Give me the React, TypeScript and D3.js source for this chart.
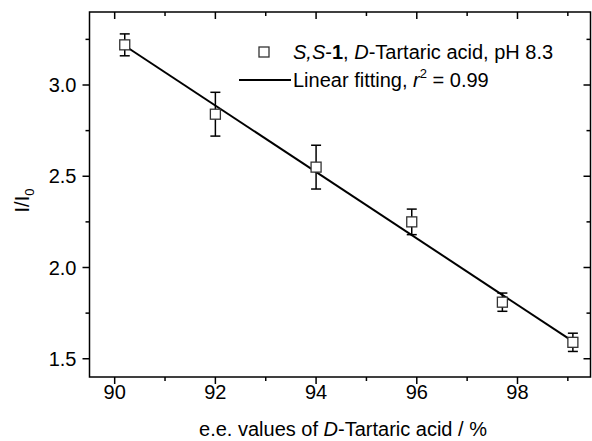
import React, { useRef, useEffect } from "react";
import * as d3 from "d3";

// measured points: e.e. (%), I/I0, error bar half-height
const eeValues = [90.2, 92.0, 94.0, 95.9, 97.7, 99.1];
const ratioValues = [3.22, 2.84, 2.55, 2.25, 1.81, 1.59];
const errValues = [0.06, 0.12, 0.12, 0.07, 0.05, 0.05];

// linear fit end points
const fitX = [90.2, 99.1];
const fitY = [3.215, 1.595];

const xTicks = [90, 92, 94, 96, 98];
const xMinor = [91, 93, 95, 97, 99];
const yTicks = [1.5, 2.0, 2.5, 3.0];
const yMinor = [1.75, 2.25, 2.75, 3.25];

const FONT = "'Liberation Sans', Arial, sans-serif";

export default function App() {
  const svgRef = useRef<SVGSVGElement | null>(null);

  useEffect(() => {
    const svg = d3.select(svgRef.current);
    svg.selectAll("*").remove();

    const left = 89.5;
    const right = 590.5;
    const top = 12;
    const bottom = 377;

    const x = d3.scaleLinear().domain([89.5, 99.45]).range([left, right]);
    const y = d3.scaleLinear().domain([1.4, 3.4]).range([bottom, top]);

    const g = svg.append("g");

    // ticks: outward on left/bottom, inward on top/right
    const tick = (x1: number, y1: number, x2: number, y2: number) =>
      g.append("line")
        .attr("x1", x1).attr("y1", y1).attr("x2", x2).attr("y2", y2)
        .attr("stroke", "#000").attr("stroke-width", 1.5);

    xTicks.forEach((v) => {
      tick(x(v), bottom, x(v), bottom + 7);
      tick(x(v), top, x(v), top + 7);
    });
    xMinor.forEach((v) => {
      tick(x(v), bottom, x(v), bottom + 4);
      tick(x(v), top, x(v), top + 4);
    });
    yTicks.forEach((v) => {
      tick(left, y(v), left - 7, y(v));
      tick(right, y(v), right - 7, y(v));
    });
    yMinor.forEach((v) => {
      tick(left, y(v), left - 4, y(v));
      tick(right, y(v), right - 4, y(v));
    });

    // frame
    g.append("rect")
      .attr("x", left).attr("y", top)
      .attr("width", right - left).attr("height", bottom - top)
      .attr("fill", "none").attr("stroke", "#000").attr("stroke-width", 1.5);

    // tick labels
    g.selectAll(".xl").data(xTicks).enter().append("text")
      .attr("x", (d) => x(d)).attr("y", bottom + 22)
      .attr("text-anchor", "middle")
      .attr("font-family", FONT).attr("font-size", 20)
      .text((d) => d);

    g.selectAll(".yl").data(yTicks).enter().append("text")
      .attr("x", left - 13).attr("y", (d) => y(d) + 7)
      .attr("text-anchor", "end")
      .attr("font-family", FONT).attr("font-size", 20)
      .text((d) => d.toFixed(1));

    // axis titles
    const xt = g.append("text")
      .attr("x", 343).attr("y", bottom + 59)
      .attr("text-anchor", "middle")
      .attr("font-family", FONT).attr("font-size", 20);
    xt.append("tspan").text("e.e. values of ");
    xt.append("tspan").attr("font-style", "italic").text("D");
    xt.append("tspan").text("-Tartaric acid / %");

    const yt = g.append("text")
      .attr("transform", `translate(29, ${(top + bottom) / 2 + 6}) rotate(-90)`)
      .attr("text-anchor", "middle")
      .attr("font-family", FONT).attr("font-size", 20);
    yt.append("tspan").text("I/I");
    yt.append("tspan").attr("font-size", 13).attr("dy", 5).text("0");

    // fit line
    const line = d3.line<number>()
      .x((d) => x(d))
      .y((_, i) => y(fitY[i]));
    g.append("path")
      .datum(fitX)
      .attr("d", line)
      .attr("fill", "none").attr("stroke", "#000").attr("stroke-width", 2);

    // error bars
    const cap = 5;
    eeValues.forEach((v, i) => {
      const cx = x(v);
      const y1 = y(ratioValues[i] + errValues[i]);
      const y2 = y(ratioValues[i] - errValues[i]);
      tick(cx, y1, cx, y2);
      tick(cx - cap, y1, cx + cap, y1);
      tick(cx - cap, y2, cx + cap, y2);
    });

    // markers
    const s = 10;
    g.selectAll(".pt").data(eeValues).enter().append("rect")
      .attr("x", (d) => x(d) - s / 2)
      .attr("y", (_, i) => y(ratioValues[i]) - s / 2)
      .attr("width", s).attr("height", s)
      .attr("fill", "#fff").attr("stroke", "#333").attr("stroke-width", 1.3);

    // legend
    g.append("rect")
      .attr("x", 259).attr("y", 47).attr("width", 10).attr("height", 10)
      .attr("fill", "#fff").attr("stroke", "#333").attr("stroke-width", 1.3);
    const l1 = g.append("text")
      .attr("x", 293).attr("y", 59)
      .attr("font-family", FONT).attr("font-size", 20);
    l1.append("tspan").attr("font-style", "italic").text("S,S");
    l1.append("tspan").text("-");
    l1.append("tspan").attr("font-weight", "bold").text("1");
    l1.append("tspan").text(", ");
    l1.append("tspan").attr("font-style", "italic").text("D");
    l1.append("tspan").text("-Tartaric acid, pH 8.3");

    g.append("line")
      .attr("x1", 239).attr("x2", 291).attr("y1", 80).attr("y2", 80)
      .attr("stroke", "#000").attr("stroke-width", 2);
    const l2 = g.append("text")
      .attr("x", 293).attr("y", 87)
      .attr("font-family", FONT).attr("font-size", 20);
    l2.append("tspan").text("Linear fitting, ");
    l2.append("tspan").attr("font-style", "italic").text("r");
    l2.append("tspan").attr("font-size", 13).attr("dy", -9).text("2");
    l2.append("tspan").attr("dy", 9).text(" = 0.99");
  }, []);

  return (
    <svg
      ref={svgRef}
      width={592}
      height={441}
      style={{ position: "absolute", left: 0, top: 0, background: "#fff" }}
    ></svg>
  );
}
